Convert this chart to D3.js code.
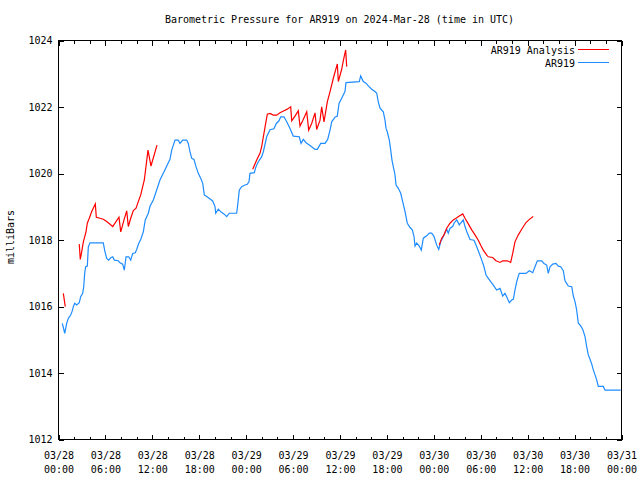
<!DOCTYPE html>
<html>
<head>
<meta charset="utf-8">
<script src="https://cdn.jsdelivr.net/npm/d3@7/dist/d3.min.js"></script>
<style>
  html, body { margin: 0; padding: 0; background: #fff; }
  svg { display: block; }
  text { font-family: "DejaVu Sans Mono", "Liberation Mono", monospace; font-size: 10px; fill: #000; }
</style>
</head>
<body>
<svg id="chart" width="640" height="480"></svg>
<script>
// ---- DATA (hours since 2024-03-28 00:00 UTC) ----
const titleText = "Barometric Pressure for AR919 on 2024-Mar-28 (time in UTC)";
const yLabel = "milliBars";
const seriesNames = ["AR919 Analysis", "AR919"];
const xTickHours = [0, 6, 12, 18, 24, 30, 36, 42, 48, 54, 60, 66, 72];
const xTickDates = ["03/28","03/28","03/28","03/28","03/29","03/29","03/29","03/29","03/30","03/30","03/30","03/30","03/31"];
const xTickTimes = ["00:00","06:00","12:00","18:00","00:00","06:00","12:00","18:00","00:00","06:00","12:00","18:00","00:00"];
const yTickValues = [1012, 1014, 1016, 1018, 1020, 1022, 1024];

// AR919 (observed)
const obsHours = [0.55,0.86,1.11,1.32,1.62,1.79,1.96,2.14,2.39,2.72,2.90,3.16,3.29,3.41,3.54,3.75,3.88,4.09,5.79,6.01,6.23,6.48,6.74,7.00,7.20,7.71,7.93,8.27,8.48,8.70,9.04,9.30,9.55,9.89,10.06,10.32,10.58,10.91,11.16,11.55,11.77,12.19,12.62,13.04,13.68,14.32,14.54,14.75,14.96,15.38,15.60,15.95,16.46,16.66,16.88,17.10,17.39,17.65,17.94,18.25,18.51,18.71,19.02,19.44,19.78,20.08,20.17,20.50,20.94,21.23,21.57,21.91,22.85,22.98,23.19,23.49,23.91,24.21,24.43,24.55,25.10,25.32,25.62,26.05,26.26,26.69,27.11,27.62,27.92,28.26,28.48,28.90,29.25,29.67,30.09,30.86,31.08,31.37,31.72,32.14,32.44,32.87,33.16,33.60,34.15,34.49,34.79,35.00,35.42,35.72,35.94,36.28,36.70,36.83,38.53,38.71,39.04,39.39,39.68,40.12,40.54,40.76,40.96,41.18,41.60,41.82,41.95,42.11,42.37,42.55,42.71,42.88,43.10,43.23,43.52,43.83,44.08,44.38,44.67,45.02,45.31,45.53,45.66,45.87,46.21,46.46,46.72,47.15,47.48,47.79,48.09,48.43,48.69,48.94,49.28,49.71,49.91,50.13,50.48,50.64,50.99,51.32,51.50,51.83,52.05,52.27,52.69,53.20,53.55,53.88,54.19,54.48,54.74,55.03,55.34,55.67,56.10,56.53,56.87,57.16,57.38,57.72,58.02,58.23,58.44,58.66,58.87,58.99,59.85,60.27,60.71,61.00,61.30,61.86,62.15,62.50,62.70,62.92,63.27,63.69,63.98,64.29,64.62,64.84,65.05,65.26,65.70,65.90,66.12,66.33,66.54,66.76,67.10,67.40,67.61,67.82,68.04,68.25,68.46,68.68,68.89,69.10,69.74,69.95,71.96];
const obsValues = [1015.48,1015.18,1015.48,1015.63,1015.73,1015.83,1015.98,1016.08,1016.03,1016.10,1016.28,1016.38,1016.58,1016.98,1017.18,1017.20,1017.78,1017.90,1017.90,1017.63,1017.43,1017.38,1017.45,1017.48,1017.38,1017.36,1017.30,1017.26,1017.08,1017.48,1017.48,1017.38,1017.58,1017.60,1017.70,1017.88,1018.00,1018.23,1018.59,1018.79,1019.00,1019.19,1019.49,1019.79,1020.10,1020.41,1020.69,1020.84,1020.99,1020.99,1020.89,1020.99,1020.99,1020.89,1020.64,1020.44,1020.41,1020.19,1019.99,1019.84,1019.69,1019.34,1019.29,1019.22,1019.16,1018.99,1018.79,1018.91,1018.81,1018.77,1018.69,1018.79,1018.79,1019.04,1019.49,1019.59,1019.64,1019.66,1019.74,1019.99,1020.01,1020.19,1020.34,1020.49,1020.64,1021.09,1021.30,1021.33,1021.49,1021.57,1021.69,1021.69,1021.54,1021.34,1021.11,1021.09,1020.89,1021.01,1020.91,1020.84,1020.79,1020.71,1020.71,1020.89,1020.89,1021.01,1021.29,1021.54,1021.68,1021.71,1022.09,1022.25,1022.45,1022.72,1022.75,1022.92,1022.75,1022.70,1022.62,1022.52,1022.45,1022.40,1022.14,1021.95,1021.84,1021.59,1021.34,1021.24,1020.99,1020.69,1020.39,1020.19,1019.94,1019.64,1019.54,1019.39,1019.14,1018.84,1018.49,1018.36,1018.29,1018.09,1017.80,1017.89,1017.80,1017.68,1018.04,1018.11,1018.19,1018.19,1018.09,1017.83,1017.70,1017.93,1018.09,1018.31,1018.19,1018.34,1018.39,1018.49,1018.59,1018.44,1018.49,1018.59,1018.39,1018.24,1018.00,1017.98,1017.78,1017.58,1017.38,1017.18,1016.93,1016.83,1016.73,1016.63,1016.48,1016.53,1016.30,1016.38,1016.28,1016.10,1016.18,1016.20,1016.48,1016.73,1016.90,1016.98,1016.98,1017.06,1017.00,1017.18,1017.36,1017.36,1017.28,1017.23,1016.98,1017.18,1017.26,1017.28,1017.20,1017.18,1017.06,1016.76,1016.68,1016.60,1016.58,1016.30,1016.13,1015.88,1015.48,1015.43,1015.30,1015.08,1014.78,1014.53,1014.40,1014.26,1014.08,1013.93,1013.78,1013.58,1013.58,1013.47,1013.47];

// AR919 Analysis (null = gap)
const anaHours = [0.68,0.93,null,2.72,2.85,3.03,3.24,3.58,3.75,4.00,4.31,4.51,4.77,4.90,5.37,5.79,6.23,6.65,7.00,7.29,7.80,8.02,8.27,8.44,8.79,8.99,9.30,9.63,9.98,10.27,10.58,10.83,11.04,11.51,11.89,12.66,null,24.90,25.41,25.83,26.05,26.26,26.47,26.77,27.11,27.53,27.97,28.39,28.90,29.32,29.76,29.89,30.31,30.73,30.95,31.29,31.81,32.06,32.44,32.87,33.08,33.51,33.72,34.02,34.44,34.79,35.21,35.72,35.85,36.28,36.49,36.79,36.92,null,48.76,49.07,49.36,49.71,50.13,50.55,50.90,51.32,51.76,52.05,52.47,52.91,53.33,53.75,54.06,54.39,54.83,55.03,55.59,56.01,56.53,56.87,57.46,57.89,58.15,58.44,58.87,59.30,59.85,60.36,60.78];
const anaValues = [1016.38,1015.98,null,1017.86,1017.40,1017.63,1017.93,1018.23,1018.49,1018.64,1018.84,1018.94,1019.07,1018.67,1018.64,1018.61,1018.54,1018.46,1018.39,1018.49,1018.67,1018.23,1018.44,1018.59,1018.86,1018.39,1018.64,1018.87,1018.94,1019.14,1019.34,1019.59,1019.79,1020.69,1020.21,1020.84,null,1020.11,1020.39,1020.59,1020.79,1021.09,1021.37,1021.77,1021.79,1021.74,1021.74,1021.81,1021.87,1021.92,1021.99,1021.57,1021.71,1021.87,1021.41,1021.57,1021.84,1021.29,1021.49,1021.81,1021.31,1021.59,1021.99,1021.54,1022.14,1022.45,1022.85,1023.28,1022.75,1023.12,1023.38,1023.70,1023.20,null,1017.83,1018.04,1018.14,1018.34,1018.49,1018.59,1018.64,1018.71,1018.77,1018.64,1018.47,1018.29,1018.14,1017.98,1017.83,1017.68,1017.53,1017.48,1017.46,1017.36,1017.31,1017.36,1017.36,1017.31,1017.58,1017.93,1018.14,1018.31,1018.51,1018.62,1018.69];

const seriesColors = ["#ff0000", "#1e8cff"];

// ---- LAYOUT ----
const L = 58, R = 621, T = 40, B = 439;
const svg = d3.select("#chart");
const x = d3.scaleLinear().domain([0, 72]).range([L, R]);
const y = d3.scaleLinear().domain([1012, 1024]).range([B, T]);

const minorHours = d3.range(0, 73, 2).filter(h => h % 6 !== 0);

// title
svg.append("text").attr("x", (L + R) / 2).attr("y", 23)
  .attr("text-anchor", "middle").text(titleText);

// y label
svg.append("text").attr("transform", "translate(14,237) rotate(-90)")
  .attr("text-anchor", "middle").text(yLabel);

// left axis
const gL = svg.append("g").attr("transform", `translate(${L + 0.5},0.5)`)
  .call(d3.axisLeft(y).tickValues(yTickValues).tickSizeInner(-5).tickSizeOuter(0).tickPadding(6).tickFormat(d3.format("d")));
gL.select(".domain").remove();
gL.selectAll("line").attr("shape-rendering", "crispEdges");
gL.selectAll("text").attr("x", -6).style("font-family", null).style("font-size", null).attr("font-family", null).attr("font-size", null);

// right axis
const gR = svg.append("g").attr("transform", `translate(${R + 0.5},0.5)`)
  .call(d3.axisRight(y).tickValues(yTickValues).tickSizeInner(-5).tickSizeOuter(0).tickFormat(""));
gR.select(".domain").remove();

// bottom axis major
const gB = svg.append("g").attr("transform", `translate(0.5,${B + 0.5})`)
  .call(d3.axisBottom(x).tickValues(xTickHours).tickSizeInner(-5).tickSizeOuter(0).tickFormat(""));
gB.select(".domain").remove();
gB.selectAll(".tick").each(function(d, i) {
  const t = d3.select(this).append("text").attr("text-anchor", "middle").attr("fill", "#000");
  t.append("tspan").attr("x", 0).attr("y", 19).text(xTickDates[i]);
  t.append("tspan").attr("x", 0).attr("y", 33).text(xTickTimes[i]);
});
// bottom minor
const gBm = svg.append("g").attr("transform", `translate(0.5,${B + 0.5})`)
  .call(d3.axisBottom(x).tickValues(minorHours).tickSizeInner(-3).tickSizeOuter(0).tickFormat(""));
gBm.select(".domain").remove();

// top axis major + minor
const gT = svg.append("g").attr("transform", `translate(0.5,${T + 0.5})`)
  .call(d3.axisTop(x).tickValues(xTickHours).tickSizeInner(-5).tickSizeOuter(0).tickFormat(""));
gT.select(".domain").remove();
const gTm = svg.append("g").attr("transform", `translate(0.5,${T + 0.5})`)
  .call(d3.axisTop(x).tickValues(minorHours).tickSizeInner(-3).tickSizeOuter(0).tickFormat(""));
gTm.select(".domain").remove();

svg.selectAll(".tick line").attr("stroke", "#000").attr("shape-rendering", "crispEdges");
svg.selectAll("g text").attr("font-family", null).attr("font-size", null);

// frame
svg.append("rect").attr("x", L + 0.5).attr("y", T + 0.5).attr("width", R - L).attr("height", B - T)
  .attr("fill", "none").attr("stroke", "#000").attr("shape-rendering", "crispEdges");

// lines
const obsData = obsHours.map((h, i) => [h, obsValues[i]]);
const anaData = anaHours.map((h, i) => [h, anaValues[i]]);
const line = d3.line().defined(d => d[0] !== null && d[1] !== null).x(d => x(d[0])).y(d => y(d[1]));

svg.append("path").datum(obsData).attr("d", line).attr("fill", "none")
  .attr("stroke", seriesColors[1]).attr("stroke-width", 1.2);
svg.append("path").datum(anaData).attr("d", line).attr("fill", "none")
  .attr("stroke", seriesColors[0]).attr("stroke-width", 1.2);

// legend
const legY = [50, 63];
seriesNames.forEach((name, i) => {
  svg.append("text").attr("x", 575).attr("y", legY[i] + 4).attr("text-anchor", "end").text(name);
  svg.append("line").attr("x1", 578).attr("x2", 609).attr("y1", legY[i] - 0.5).attr("y2", legY[i] - 0.5)
    .attr("stroke", seriesColors[i]).attr("stroke-width", 1).attr("shape-rendering", "crispEdges");
});
</script>
</body>
</html>
